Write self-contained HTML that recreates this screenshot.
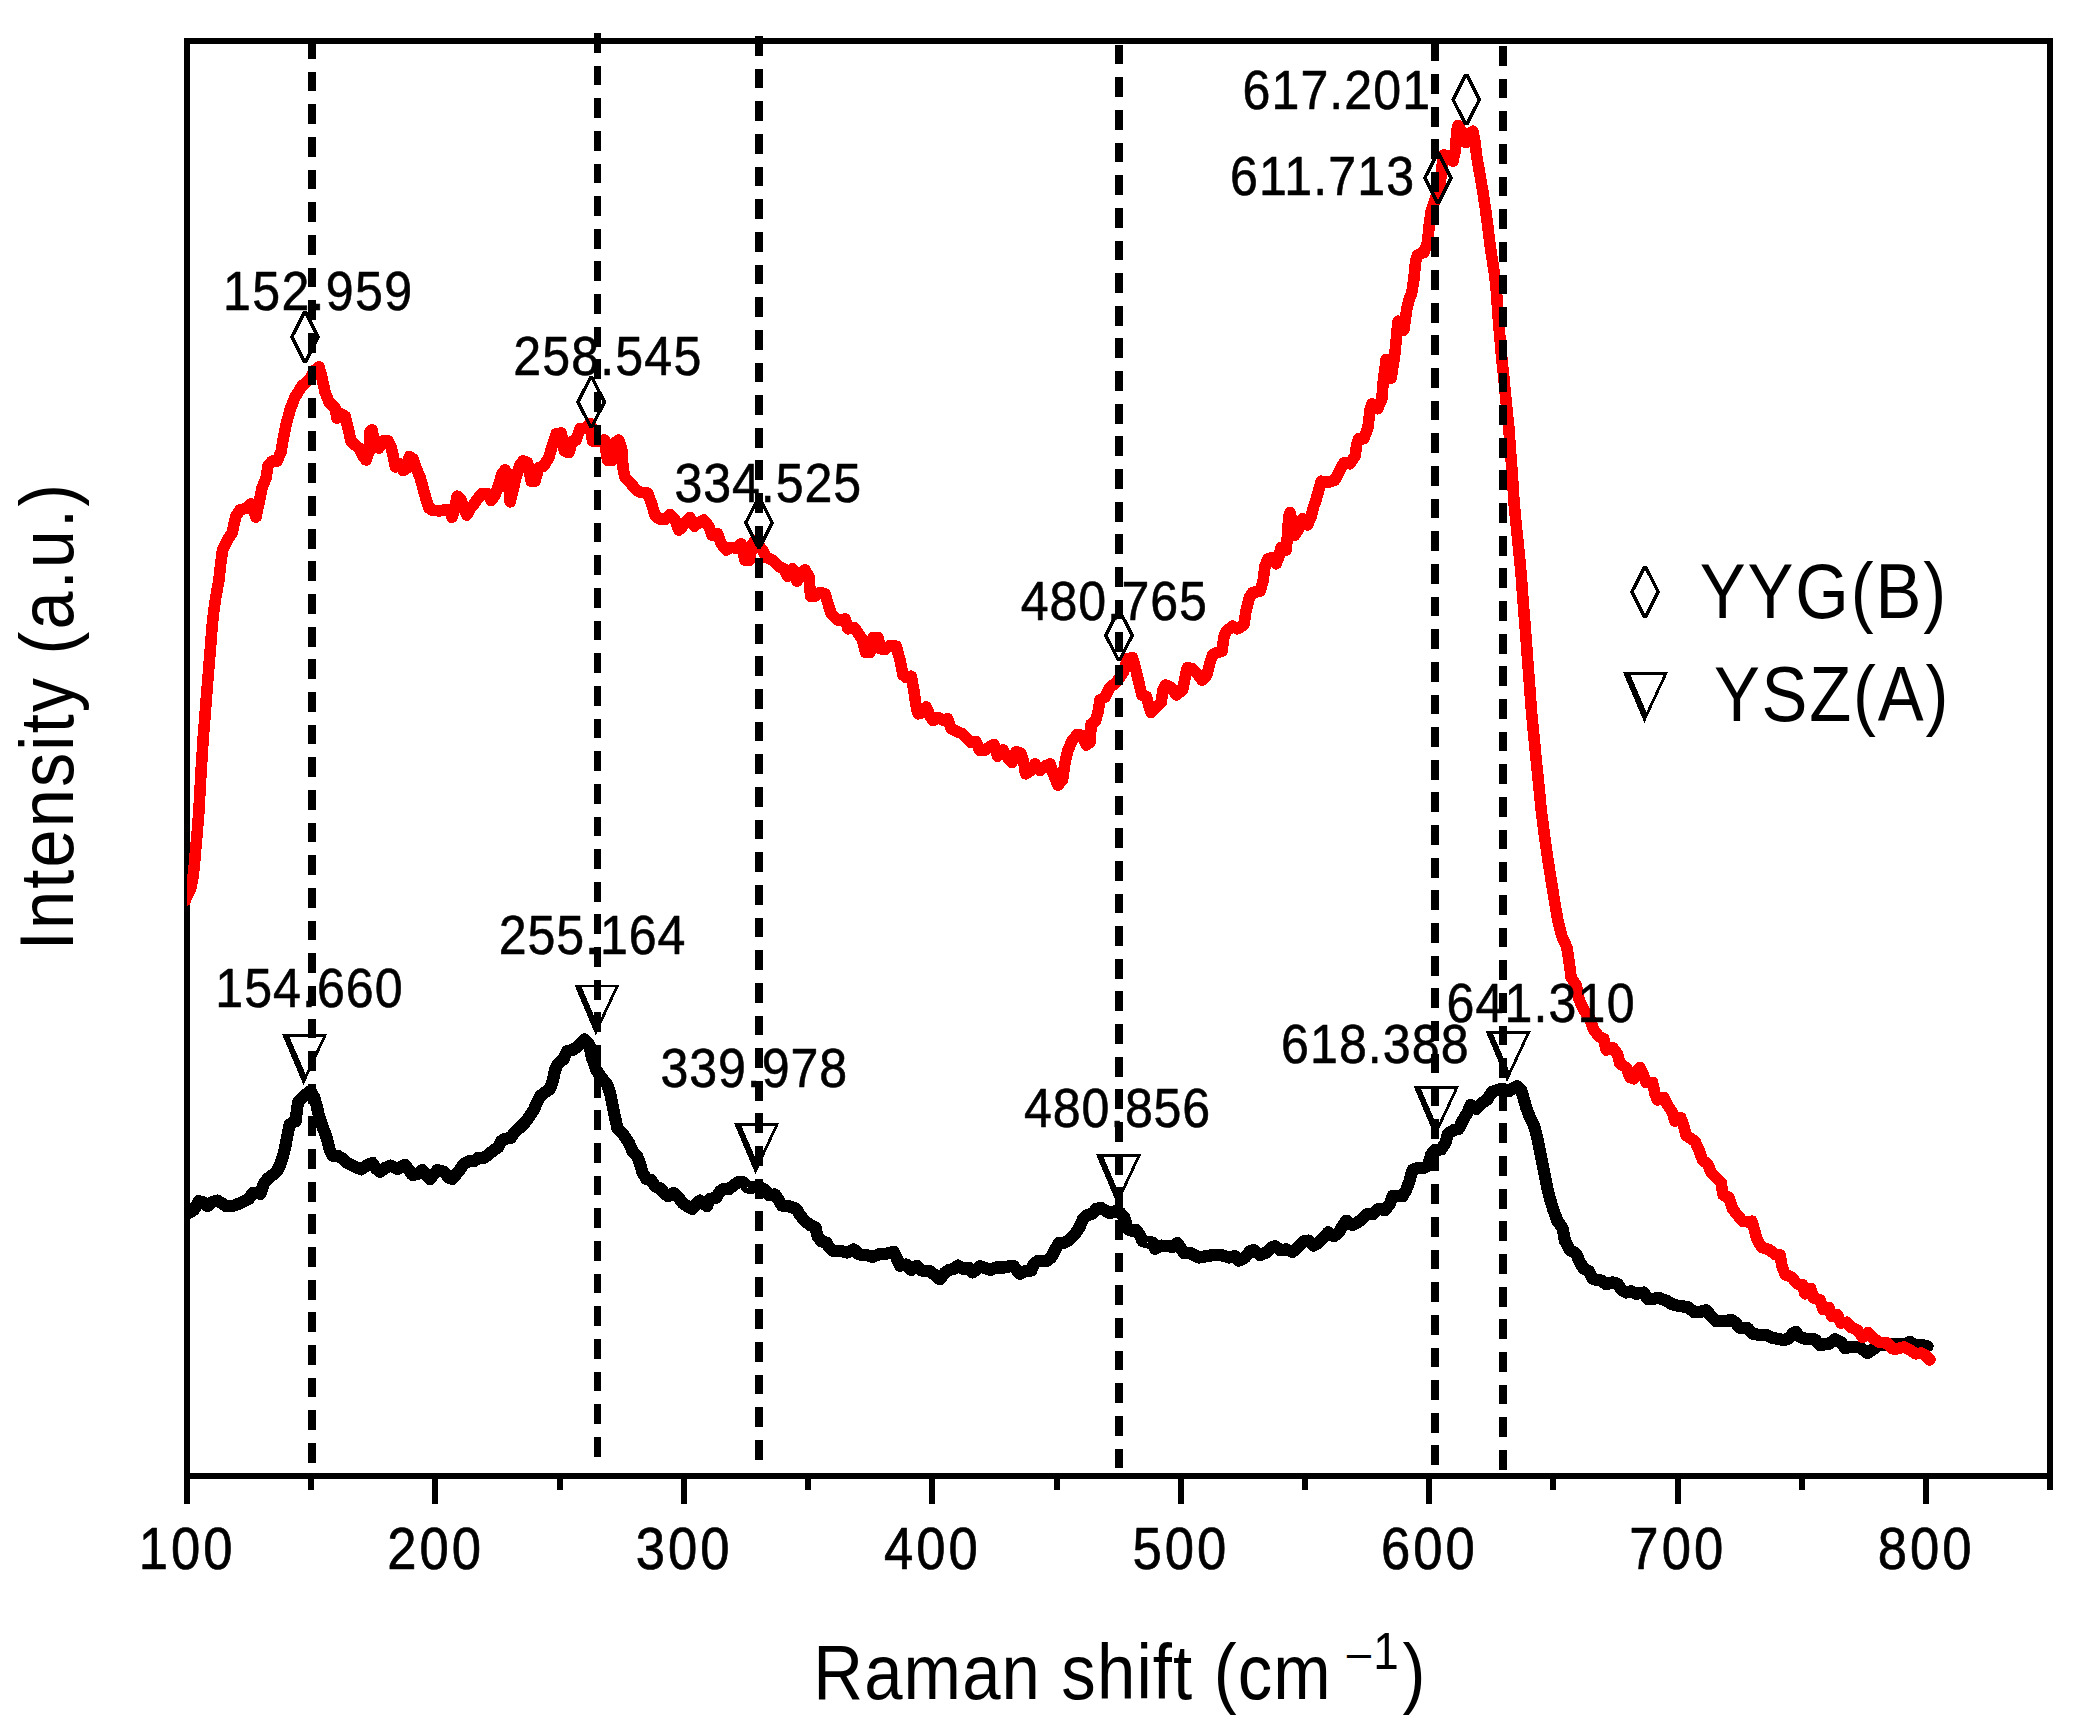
<!DOCTYPE html>
<html lang="en">
<head>
<meta charset="utf-8">
<title>Raman spectra</title>
<style>
html,body{margin:0;padding:0;background:#fff;}
body{width:2086px;height:1728px;overflow:hidden;}
svg{display:block;}
text{font-family:"Liberation Sans", sans-serif;fill:#000;}
.lab{font-size:52px;}
.tick{font-size:56.5px;text-anchor:middle;}
.title{font-size:71.5px;}
.leg{font-size:72px;}
</style>
</head>
<body>
<svg width="2086" height="1728" viewBox="0 0 2086 1728">
<defs>
<clipPath id="plot"><rect x="187" y="41" width="1863" height="1435"/></clipPath>
<path id="dia" fill-rule="evenodd" d="M-15.15,0 L-1.9,-25.85 L1.9,-25.85 L15.15,0 L1.9,25.85 L-1.9,25.85 Z M-11.25,0 L0,-22.25 L11.25,0 L0,22.25 Z"/>
<path id="nab" fill-rule="evenodd" d="M0,0 L45.2,0 L21.5,51 Z M7.5,2.95 L40.8,2.95 L23.5,40 Z"/>
</defs>
<rect x="0" y="0" width="2086" height="1728" fill="#fff"/>

<g id="axes" fill="none" stroke="#000" stroke-width="6" stroke-linecap="butt" shape-rendering="crispEdges">
<rect x="187" y="41" width="1863" height="1435"/>
<line x1="187.0" y1="1476" x2="187.0" y2="1503.6"/>
<line x1="435.4" y1="1476" x2="435.4" y2="1503.6"/>
<line x1="683.9" y1="1476" x2="683.9" y2="1503.6"/>
<line x1="932.3" y1="1476" x2="932.3" y2="1503.6"/>
<line x1="1180.7" y1="1476" x2="1180.7" y2="1503.6"/>
<line x1="1429.2" y1="1476" x2="1429.2" y2="1503.6"/>
<line x1="1677.6" y1="1476" x2="1677.6" y2="1503.6"/>
<line x1="1926.0" y1="1476" x2="1926.0" y2="1503.6"/>
<line x1="311.2" y1="1476" x2="311.2" y2="1489.6"/>
<line x1="559.6" y1="1476" x2="559.6" y2="1489.6"/>
<line x1="808.1" y1="1476" x2="808.1" y2="1489.6"/>
<line x1="1056.5" y1="1476" x2="1056.5" y2="1489.6"/>
<line x1="1304.9" y1="1476" x2="1304.9" y2="1489.6"/>
<line x1="1553.4" y1="1476" x2="1553.4" y2="1489.6"/>
<line x1="1801.8" y1="1476" x2="1801.8" y2="1489.6"/>
<line x1="2050.2" y1="1476" x2="2050.2" y2="1489.6"/>
</g>
<g id="curves" clip-path="url(#plot)" fill="none" stroke-linejoin="round" stroke-linecap="round" shape-rendering="crispEdges">
<path d="M185.0,1215.0 L187.5,1213.8 L193.8,1210.0 L198.8,1201.2 L203.8,1202.5 L207.5,1206.2 L212.5,1201.9 L217.5,1200.6 L222.5,1203.8 L226.2,1206.2 L233.8,1205.6 L238.8,1203.8 L243.8,1201.2 L248.8,1198.8 L252.5,1193.0 L257.5,1192.5 L260.6,1193.8 L263.8,1183.8 L267.5,1178.8 L272.5,1175.0 L276.9,1171.2 L280.0,1165.0 L283.0,1156.2 L285.6,1145.0 L287.5,1135.0 L289.4,1125.0 L292.5,1122.5 L295.6,1121.2 L296.9,1110.0 L298.0,1102.5 L302.5,1097.5 L306.5,1094.0 L310.5,1091.0 L314.0,1097.0 L316.5,1105.0 L318.8,1115.0 L321.9,1125.0 L326.2,1136.2 L329.4,1148.8 L332.5,1155.6 L337.5,1155.6 L342.5,1158.8 L347.5,1163.0 L353.8,1166.2 L361.2,1169.4 L367.5,1165.0 L372.5,1163.0 L376.2,1168.8 L380.0,1171.9 L385.0,1168.0 L390.6,1165.6 L397.5,1168.8 L405.0,1165.0 L408.8,1170.0 L412.5,1175.0 L417.5,1173.8 L422.5,1170.0 L426.9,1176.2 L430.0,1179.0 L434.0,1174.0 L437.5,1170.0 L443.8,1171.9 L448.8,1177.5 L452.5,1178.8 L458.8,1171.2 L463.8,1163.8 L468.8,1161.2 L473.8,1161.2 L478.0,1158.0 L483.8,1158.0 L488.8,1154.4 L493.8,1150.0 L498.0,1147.5 L501.2,1141.2 L505.0,1138.8 L510.6,1138.0 L515.0,1131.9 L520.0,1127.5 L525.0,1122.5 L530.0,1115.6 L533.8,1110.0 L536.9,1102.5 L540.0,1096.2 L545.0,1092.5 L550.0,1088.8 L553.0,1080.0 L555.0,1070.0 L558.0,1063.8 L563.8,1058.8 L566.9,1051.2 L572.5,1050.0 L578.0,1046.2 L584.4,1039.4 L589.4,1045.0 L591.9,1057.5 L596.2,1070.0 L602.5,1078.8 L607.5,1085.0 L610.6,1095.0 L613.0,1107.5 L615.6,1120.0 L617.5,1128.8 L623.8,1135.0 L628.8,1142.5 L632.5,1151.2 L636.9,1155.6 L640.0,1163.8 L642.5,1172.5 L646.2,1178.8 L651.2,1180.0 L655.0,1186.2 L660.6,1188.8 L665.0,1193.8 L668.0,1196.2 L673.8,1193.0 L678.8,1197.5 L682.5,1203.0 L687.0,1206.0 L692.5,1208.8 L697.5,1202.5 L700.0,1200.6 L706.9,1206.2 L710.0,1198.8 L716.2,1198.0 L720.0,1191.2 L723.8,1188.8 L728.8,1189.4 L733.8,1185.0 L738.8,1181.9 L743.8,1182.5 L747.5,1187.5 L752.5,1187.5 L758.8,1186.2 L765.0,1190.0 L768.8,1195.0 L775.0,1194.4 L778.8,1200.0 L781.9,1205.6 L788.8,1206.2 L796.2,1208.8 L800.0,1215.0 L805.0,1221.2 L810.0,1225.0 L815.6,1227.5 L817.5,1236.2 L821.2,1241.2 L826.2,1242.5 L829.4,1247.5 L833.8,1251.2 L841.2,1251.2 L847.5,1252.5 L853.8,1249.4 L858.8,1254.4 L866.2,1255.0 L872.5,1256.9 L878.8,1254.4 L886.2,1253.8 L893.8,1251.9 L897.5,1260.0 L900.0,1265.6 L906.2,1264.4 L911.2,1270.0 L916.9,1265.6 L921.9,1270.6 L928.8,1270.6 L935.0,1275.0 L940.0,1279.4 L945.0,1272.5 L948.8,1270.0 L953.8,1268.8 L958.0,1265.6 L963.0,1268.8 L968.8,1268.0 L972.5,1272.5 L977.5,1268.8 L980.0,1266.2 L985.0,1268.0 L990.6,1270.0 L996.2,1267.5 L1003.8,1267.5 L1010.0,1266.2 L1013.8,1266.2 L1017.5,1271.2 L1020.0,1273.8 L1025.0,1271.2 L1031.2,1270.6 L1033.8,1263.8 L1037.5,1261.2 L1046.2,1261.2 L1051.2,1257.5 L1055.0,1250.0 L1058.8,1243.0 L1063.8,1243.0 L1067.5,1241.2 L1071.2,1237.5 L1076.2,1232.5 L1080.0,1226.2 L1083.0,1218.8 L1087.5,1215.0 L1092.5,1213.8 L1096.2,1208.8 L1101.2,1208.0 L1106.2,1211.2 L1110.0,1213.0 L1115.0,1211.2 L1120.0,1212.5 L1124.4,1217.5 L1127.5,1228.8 L1131.2,1230.6 L1136.2,1230.0 L1140.0,1235.6 L1142.5,1241.2 L1147.5,1242.5 L1152.5,1242.5 L1155.0,1248.8 L1161.2,1245.6 L1167.5,1246.2 L1172.5,1246.9 L1177.5,1243.0 L1181.2,1248.8 L1183.8,1253.0 L1190.0,1253.0 L1198.8,1257.5 L1206.2,1256.2 L1213.8,1255.0 L1221.2,1255.0 L1228.8,1257.5 L1235.0,1256.2 L1238.8,1260.6 L1245.0,1257.5 L1250.0,1251.2 L1253.8,1250.0 L1260.0,1255.0 L1266.2,1252.5 L1271.2,1247.5 L1275.0,1246.2 L1280.0,1250.0 L1286.2,1249.4 L1292.5,1251.9 L1298.8,1246.2 L1303.8,1241.2 L1308.8,1240.6 L1313.8,1245.6 L1318.8,1242.5 L1323.8,1237.5 L1328.0,1232.5 L1333.8,1236.2 L1338.8,1232.5 L1342.5,1226.2 L1346.2,1220.6 L1352.5,1225.0 L1357.5,1222.5 L1362.5,1218.8 L1367.5,1213.8 L1372.5,1214.4 L1378.8,1208.8 L1385.0,1210.0 L1390.0,1203.8 L1392.5,1196.2 L1397.5,1196.2 L1402.5,1196.2 L1406.2,1190.0 L1409.4,1181.2 L1412.5,1170.0 L1417.5,1168.0 L1423.8,1168.0 L1428.0,1165.5 L1431.2,1154.5 L1435.0,1150.0 L1441.2,1149.4 L1445.6,1142.5 L1448.0,1133.8 L1453.8,1130.0 L1458.8,1128.8 L1463.0,1120.0 L1467.5,1112.5 L1470.6,1105.0 L1476.2,1108.8 L1482.5,1102.5 L1487.5,1099.4 L1491.9,1091.9 L1497.5,1090.0 L1502.5,1088.8 L1508.8,1091.2 L1512.5,1088.8 L1516.9,1086.2 L1521.2,1090.0 L1523.8,1098.8 L1526.2,1107.5 L1530.0,1117.5 L1533.8,1125.0 L1536.9,1136.2 L1539.4,1148.8 L1541.9,1161.2 L1544.4,1173.8 L1546.9,1186.2 L1550.0,1198.8 L1553.8,1211.2 L1557.5,1221.2 L1562.5,1228.0 L1565.0,1241.0 L1570.0,1250.0 L1576.2,1253.8 L1580.0,1262.5 L1583.8,1268.8 L1588.8,1271.2 L1592.5,1278.8 L1597.5,1280.0 L1601.9,1280.6 L1606.2,1284.4 L1612.5,1282.5 L1617.5,1283.8 L1621.9,1290.0 L1626.2,1292.5 L1631.2,1291.2 L1636.2,1293.8 L1643.8,1292.5 L1647.5,1298.8 L1652.5,1298.8 L1658.8,1298.0 L1666.2,1300.6 L1672.5,1304.4 L1680.0,1306.2 L1687.5,1306.9 L1693.8,1311.9 L1700.0,1311.9 L1706.2,1310.3 L1711.2,1316.2 L1716.2,1321.2 L1725.0,1321.2 L1731.2,1320.0 L1736.0,1323.0 L1739.0,1327.5 L1747.5,1328.0 L1752.5,1333.8 L1760.0,1335.0 L1766.2,1335.0 L1771.2,1337.5 L1777.5,1338.8 L1783.8,1340.0 L1788.8,1338.5 L1792.5,1333.8 L1795.6,1331.9 L1800.0,1336.9 L1805.0,1338.8 L1815.0,1339.4 L1820.0,1345.0 L1828.8,1343.8 L1835.0,1339.4 L1841.2,1342.5 L1845.0,1348.0 L1851.2,1346.9 L1858.8,1346.9 L1863.8,1350.0 L1867.5,1353.0 L1873.8,1348.8 L1878.8,1345.0 L1886.2,1345.0 L1892.5,1343.8 L1898.8,1343.8 L1903.8,1345.0 L1910.0,1341.9 L1915.0,1345.0 L1921.2,1345.0 L1927.5,1346.2" stroke="#000" stroke-width="12.2"/>
<path d="M185.0,901.0 L187.0,896.0 L190.6,888.8 L192.5,880.0 L194.0,868.8 L195.6,850.0 L197.2,832.5 L198.8,812.5 L200.0,791.0 L201.2,768.8 L202.5,750.0 L203.0,740.0 L204.6,721.0 L206.0,702.5 L207.5,684.0 L209.0,665.0 L210.6,646.0 L212.0,627.5 L213.8,611.0 L216.0,596.0 L218.8,581.0 L220.6,565.0 L222.5,550.0 L225.0,545.0 L228.0,539.0 L232.0,533.0 L236.0,516.0 L240.0,510.0 L247.0,508.0 L251.0,504.0 L256.0,517.0 L260.0,498.0 L262.0,488.0 L266.0,478.0 L268.0,466.0 L272.0,461.0 L277.0,461.0 L281.0,452.0 L283.0,440.0 L286.0,425.0 L290.0,410.0 L295.0,397.0 L302.0,386.0 L309.0,380.0 L315.0,370.0 L319.0,367.0 L322.0,378.0 L325.0,392.0 L329.0,402.0 L335.0,408.0 L337.0,418.0 L341.0,414.0 L345.0,416.0 L348.0,428.0 L351.0,441.0 L355.0,445.0 L359.0,448.0 L363.0,456.0 L366.0,460.0 L369.0,452.0 L370.0,432.0 L372.0,430.0 L374.0,440.0 L376.0,447.0 L379.0,448.0 L383.0,441.0 L388.0,441.0 L391.0,447.0 L393.0,455.0 L395.5,467.0 L399.5,463.5 L403.0,470.5 L406.0,469.0 L409.4,456.5 L413.0,459.0 L416.0,468.0 L420.0,477.0 L423.0,488.0 L426.0,499.0 L429.0,508.0 L432.0,510.0 L439.4,511.0 L446.0,509.4 L450.0,509.4 L451.9,517.5 L455.0,508.0 L457.2,496.2 L460.6,498.8 L465.0,510.6 L466.9,515.0 L470.6,508.0 L473.8,504.4 L477.5,498.8 L481.9,493.8 L487.5,493.8 L491.2,500.6 L495.0,495.0 L498.8,485.0 L501.9,473.8 L505.0,470.0 L508.0,473.8 L510.0,501.9 L512.5,492.5 L515.6,478.8 L520.0,465.0 L523.0,461.0 L527.5,462.5 L531.2,481.0 L535.0,481.0 L538.8,467.5 L543.8,466.0 L548.8,457.5 L552.5,445.0 L556.2,433.8 L561.2,433.0 L564.4,451.0 L568.8,452.5 L572.5,441.0 L576.2,440.0 L580.0,428.8 L585.0,428.0 L590.6,423.8 L592.5,441.0 L600.0,441.0 L604.4,440.0 L607.5,460.0 L612.5,460.0 L615.0,442.5 L618.8,440.0 L621.9,450.0 L623.0,467.5 L625.0,477.5 L630.0,482.5 L636.2,490.0 L641.2,492.5 L647.5,493.0 L651.2,502.5 L655.0,515.0 L658.8,518.8 L665.0,519.4 L670.0,514.4 L675.0,520.0 L678.8,530.0 L682.0,527.0 L686.0,522.0 L690.0,517.5 L694.4,526.2 L698.8,522.5 L703.8,520.0 L708.8,526.2 L711.9,535.0 L717.5,533.8 L721.2,543.8 L726.2,550.0 L731.2,547.5 L736.2,548.0 L741.2,543.8 L745.0,560.0 L749.4,560.0 L752.5,543.8 L755.0,541.0 L762.5,550.0 L766.2,557.5 L772.5,560.0 L778.8,566.2 L783.8,568.8 L787.5,576.2 L792.5,568.8 L796.9,581.2 L801.2,572.5 L805.0,570.0 L808.8,576.2 L810.6,596.2 L815.0,596.2 L820.0,592.5 L825.0,593.8 L828.8,606.2 L831.2,613.8 L837.5,620.0 L841.2,620.0 L845.0,618.8 L848.0,628.8 L853.8,627.5 L856.2,630.0 L862.5,640.0 L865.6,652.5 L870.0,652.5 L873.0,637.5 L878.0,637.5 L880.6,648.8 L885.0,649.4 L890.0,645.6 L896.2,646.2 L900.0,660.0 L903.0,675.0 L906.2,677.5 L911.2,676.2 L913.8,690.0 L916.2,706.2 L918.0,713.8 L922.5,712.5 L926.2,706.9 L930.0,716.2 L933.0,720.6 L938.0,717.5 L942.5,720.0 L947.5,718.8 L951.2,728.8 L956.2,731.2 L962.5,733.8 L967.5,738.8 L971.2,742.5 L976.2,741.9 L979.4,750.0 L985.0,750.0 L989.4,746.9 L993.8,744.4 L997.5,756.2 L1003.0,750.0 L1007.5,757.5 L1011.9,762.5 L1016.2,751.9 L1020.6,753.0 L1023.8,762.5 L1025.6,773.8 L1030.0,771.2 L1035.0,763.8 L1040.0,770.6 L1045.0,766.2 L1050.0,763.8 L1053.8,775.0 L1058.0,785.0 L1062.5,780.0 L1065.0,762.5 L1068.0,750.0 L1072.5,740.0 L1077.5,734.4 L1082.5,735.6 L1086.2,745.0 L1090.0,742.5 L1091.2,723.8 L1095.0,721.9 L1098.0,712.5 L1100.0,700.0 L1105.0,697.0 L1110.0,687.5 L1116.2,682.5 L1123.8,671.2 L1127.5,658.8 L1132.5,657.5 L1136.2,671.2 L1139.4,685.0 L1141.9,695.0 L1146.2,696.2 L1149.4,707.5 L1151.2,712.5 L1156.2,707.5 L1161.2,702.5 L1163.0,690.0 L1165.6,685.0 L1171.2,687.5 L1176.2,695.0 L1182.5,690.0 L1185.6,675.0 L1187.5,667.5 L1192.5,668.8 L1197.5,673.8 L1201.9,680.0 L1206.9,675.0 L1210.0,662.5 L1212.5,655.0 L1217.5,652.5 L1221.9,651.2 L1223.8,637.5 L1226.2,631.2 L1232.5,626.2 L1237.5,628.8 L1243.8,625.0 L1246.2,610.0 L1249.4,597.5 L1252.5,592.5 L1260.0,591.2 L1263.0,581.2 L1265.0,566.2 L1268.0,558.8 L1272.5,557.5 L1276.2,563.8 L1279.4,555.0 L1281.2,547.5 L1286.2,550.0 L1287.5,535.0 L1288.8,516.2 L1290.0,512.5 L1293.0,525.0 L1295.0,535.0 L1298.8,528.8 L1302.5,518.8 L1307.5,525.0 L1311.2,516.2 L1313.8,506.2 L1316.0,500.0 L1318.8,490.0 L1321.2,481.2 L1327.5,482.5 L1335.0,480.0 L1340.0,470.0 L1343.8,463.0 L1350.0,463.8 L1355.0,456.2 L1356.9,443.8 L1358.8,438.8 L1363.8,438.8 L1368.0,427.5 L1370.0,410.0 L1371.9,403.8 L1377.5,408.8 L1381.9,398.8 L1383.0,383.8 L1386.2,359.4 L1391.2,378.0 L1395.0,352.5 L1396.2,340.0 L1398.0,321.2 L1403.8,330.0 L1406.9,308.8 L1409.5,297.5 L1411.5,294.0 L1413.8,280.0 L1415.6,261.2 L1417.5,255.0 L1423.8,252.5 L1427.5,242.5 L1429.4,223.8 L1431.2,211.2 L1435.0,200.0 L1440.0,186.2 L1441.9,167.5 L1443.8,155.0 L1448.8,156.2 L1453.0,161.2 L1455.6,148.8 L1456.9,130.0 L1458.0,125.6 L1463.0,133.8 L1466.2,142.5 L1470.0,133.8 L1473.0,131.2 L1475.0,142.5 L1476.9,157.5 L1480.0,175.0 L1483.0,192.5 L1485.6,210.0 L1488.0,227.5 L1490.0,245.0 L1492.5,261.2 L1495.0,277.5 L1496.6,293.0 L1498.0,315.0 L1501.2,352.5 L1503.8,377.5 L1506.2,402.5 L1508.8,427.5 L1510.6,452.5 L1512.5,477.5 L1514.0,502.0 L1516.2,525.0 L1518.8,550.0 L1521.2,575.0 L1523.0,600.0 L1525.0,625.0 L1526.9,650.0 L1528.8,675.0 L1530.6,700.0 L1531.6,713.0 L1533.8,735.0 L1536.2,760.0 L1538.8,785.0 L1541.2,810.0 L1544.4,835.0 L1548.0,860.0 L1551.9,885.0 L1555.6,907.5 L1558.4,923.0 L1561.9,936.2 L1566.9,947.5 L1569.4,963.8 L1571.2,977.5 L1576.2,985.0 L1578.8,998.8 L1583.8,1010.0 L1590.0,1018.8 L1593.8,1030.0 L1598.8,1036.2 L1603.8,1038.8 L1606.2,1050.0 L1612.5,1047.5 L1617.5,1053.8 L1620.0,1063.8 L1626.2,1067.5 L1630.0,1077.5 L1633.8,1078.8 L1637.5,1070.0 L1640.0,1067.5 L1643.8,1076.2 L1646.2,1082.5 L1652.5,1082.5 L1655.0,1093.8 L1657.5,1100.0 L1663.8,1097.5 L1667.5,1105.0 L1672.5,1112.5 L1675.0,1121.2 L1680.6,1117.5 L1683.8,1126.2 L1686.2,1135.5 L1695.0,1141.2 L1699.4,1151.2 L1702.5,1160.0 L1707.5,1163.8 L1711.2,1172.5 L1716.2,1177.5 L1721.2,1182.5 L1723.0,1195.0 L1728.8,1197.5 L1732.5,1208.8 L1737.5,1215.0 L1742.5,1221.2 L1747.5,1221.9 L1751.9,1221.2 L1755.0,1232.0 L1757.2,1240.0 L1762.0,1247.5 L1769.4,1249.7 L1775.0,1254.4 L1780.0,1255.0 L1781.9,1265.6 L1785.0,1274.4 L1792.0,1277.5 L1797.0,1283.8 L1802.8,1285.0 L1805.0,1293.8 L1810.6,1288.4 L1813.4,1298.0 L1820.0,1299.7 L1823.0,1309.4 L1828.8,1307.5 L1831.5,1316.2 L1837.5,1315.0 L1840.9,1323.0 L1846.8,1322.2 L1851.2,1327.5 L1857.5,1330.0 L1862.5,1337.5 L1868.0,1332.5 L1873.8,1338.8 L1880.0,1342.5 L1887.5,1343.0 L1892.5,1348.8 L1897.5,1348.8 L1903.8,1346.9 L1910.0,1350.0 L1915.6,1353.8 L1921.2,1353.0 L1925.0,1355.0 L1930.0,1360.0" stroke="#ff0000" stroke-width="11.6"/>
</g>
<g id="guides" fill="none" stroke="#000" shape-rendering="crispEdges">
<line x1="312.0" y1="39.0" x2="312.0" y2="1462.75" stroke-width="8" stroke-dasharray="19.8 12.85"/>
<line x1="597.5" y1="32.9" x2="597.5" y2="1456.65" stroke-width="7" stroke-dasharray="19.8 12.85"/>
<line x1="759.0" y1="36.0" x2="759.0" y2="1459.75" stroke-width="8" stroke-dasharray="19.8 12.85"/>
<line x1="1119.0" y1="44.6" x2="1119.0" y2="1468.35" stroke-width="8" stroke-dasharray="19.8 12.85"/>
<line x1="1435.0" y1="41.5" x2="1435.0" y2="1465.25" stroke-width="8" stroke-dasharray="19.8 12.85"/>
<line x1="1503.0" y1="46.0" x2="1503.0" y2="1469.75" stroke-width="8" stroke-dasharray="19.8 12.85"/>
</g>
<g id="markers" fill="#000" shape-rendering="crispEdges">
<use href="#dia" x="305.0" y="337.0"/>
<use href="#dia" x="591.25" y="402.0"/>
<use href="#dia" x="759.0" y="522.8"/>
<use href="#dia" x="1119.0" y="635.4"/>
<use href="#dia" x="1438.0" y="178.0"/>
<use href="#dia" x="1466.25" y="99.6"/>
<use href="#dia" x="1645.05" y="591.9"/>
<use href="#nab" x="282.0" y="1034.0"/>
<use href="#nab" x="574.3" y="984.5"/>
<use href="#nab" x="734.0" y="1123.0"/>
<use href="#nab" x="1096.0" y="1154.2"/>
<use href="#nab" x="1413.75" y="1086.4"/>
<use href="#nab" x="1485.6" y="1031.0"/>
<use href="#nab" x="1622.9" y="671.95"/>
</g>
<g id="labels">
<text  stroke="#000" stroke-width="0.6" stroke-linejoin="round" transform="translate(223.04,309.50) scale(0.8938,1)" font-size="56.08" letter-spacing="1.462">152.959</text>
<text  stroke="#000" stroke-width="0.6" stroke-linejoin="round" transform="translate(513.28,374.80) scale(0.8938,1)" font-size="56.08" letter-spacing="1.274">258.545</text>
<text  stroke="#000" stroke-width="0.6" stroke-linejoin="round" transform="translate(674.59,502.40) scale(0.8938,1)" font-size="56.08" letter-spacing="0.992">334.525</text>
<text  stroke="#000" stroke-width="0.6" stroke-linejoin="round" transform="translate(1020.85,620.00) scale(0.8938,1)" font-size="56.08" letter-spacing="0.906">480.765</text>
<text  stroke="#000" stroke-width="0.6" stroke-linejoin="round" transform="translate(1229.95,195.20) scale(0.8938,1)" font-size="56.08" letter-spacing="1.278">611.713</text>
<text  stroke="#000" stroke-width="0.6" stroke-linejoin="round" transform="translate(1242.45,108.60) scale(0.8938,1)" font-size="56.08" letter-spacing="1.226">617.201</text>
<text  stroke="#000" stroke-width="0.6" stroke-linejoin="round" transform="translate(215.34,1007.40) scale(0.8938,1)" font-size="56.08" letter-spacing="1.142">154.660</text>
<text  stroke="#000" stroke-width="0.6" stroke-linejoin="round" transform="translate(498.78,953.70) scale(0.8938,1)" font-size="56.08" letter-spacing="1.006">255.164</text>
<text  stroke="#000" stroke-width="0.6" stroke-linejoin="round" transform="translate(660.49,1086.90) scale(0.8938,1)" font-size="56.08" letter-spacing="1.024">339.978</text>
<text  stroke="#000" stroke-width="0.6" stroke-linejoin="round" transform="translate(1024.05,1126.90) scale(0.8938,1)" font-size="56.08" letter-spacing="0.924">480.856</text>
<text  stroke="#000" stroke-width="0.6" stroke-linejoin="round" transform="translate(1281.05,1062.50) scale(0.8938,1)" font-size="56.08" letter-spacing="1.180">618.388</text>
<text  stroke="#000" stroke-width="0.6" stroke-linejoin="round" transform="translate(1446.45,1022.40) scale(0.8938,1)" font-size="56.08" letter-spacing="1.288">641.310</text>
</g>
<g id="ticklabels">
<text  stroke="#000" stroke-width="0.7" stroke-linejoin="round" transform="translate(138.78,1569.30) scale(0.8938,1)" font-size="58.89" letter-spacing="3.361">100</text>
<text  stroke="#000" stroke-width="0.7" stroke-linejoin="round" transform="translate(387.21,1569.30) scale(0.8938,1)" font-size="58.89" letter-spacing="3.361">200</text>
<text  stroke="#000" stroke-width="0.7" stroke-linejoin="round" transform="translate(635.64,1569.30) scale(0.8938,1)" font-size="58.89" letter-spacing="3.361">300</text>
<text  stroke="#000" stroke-width="0.7" stroke-linejoin="round" transform="translate(884.07,1569.30) scale(0.8938,1)" font-size="58.89" letter-spacing="3.361">400</text>
<text  stroke="#000" stroke-width="0.7" stroke-linejoin="round" transform="translate(1132.50,1569.30) scale(0.8938,1)" font-size="58.89" letter-spacing="3.361">500</text>
<text  stroke="#000" stroke-width="0.7" stroke-linejoin="round" transform="translate(1380.93,1569.30) scale(0.8938,1)" font-size="58.89" letter-spacing="3.361">600</text>
<text  stroke="#000" stroke-width="0.7" stroke-linejoin="round" transform="translate(1629.36,1569.30) scale(0.8938,1)" font-size="58.89" letter-spacing="3.361">700</text>
<text  stroke="#000" stroke-width="0.7" stroke-linejoin="round" transform="translate(1877.79,1569.30) scale(0.8938,1)" font-size="58.89" letter-spacing="3.361">800</text>
</g>
<g id="legend">
<text  transform="translate(1699.76,617.90) scale(0.8938,1)" font-size="77.00" letter-spacing="2.110">YYG(B)</text>
<text  transform="translate(1713.89,720.60) scale(0.8938,1)" font-size="77.00" letter-spacing="2.012">YSZ(A)</text>
</g>
<g id="titles">
<text  transform="translate(813.25,1698.90) scale(0.8938,1)" font-size="77.10" letter-spacing="1.275">Raman shift (cm</text>
<text transform="translate(1344.55,1670.50) scale(0.9670,0.85)" font-size="51.3">−</text>
<text transform="translate(1373.32,1668.8) scale(0.8938,1)" font-size="51.30">1</text>
<text  transform="translate(1402.60,1698.90) scale(0.8938,1)" font-size="77.10" letter-spacing="0.000">)</text>
<g transform="translate(73,943.9) rotate(-90)"><text  transform="translate(-6.33,0.00) scale(0.8938,1)" font-size="76.68" letter-spacing="2.395">Intensity (a.u.)</text></g>
</g>
</svg>
</body>
</html>
